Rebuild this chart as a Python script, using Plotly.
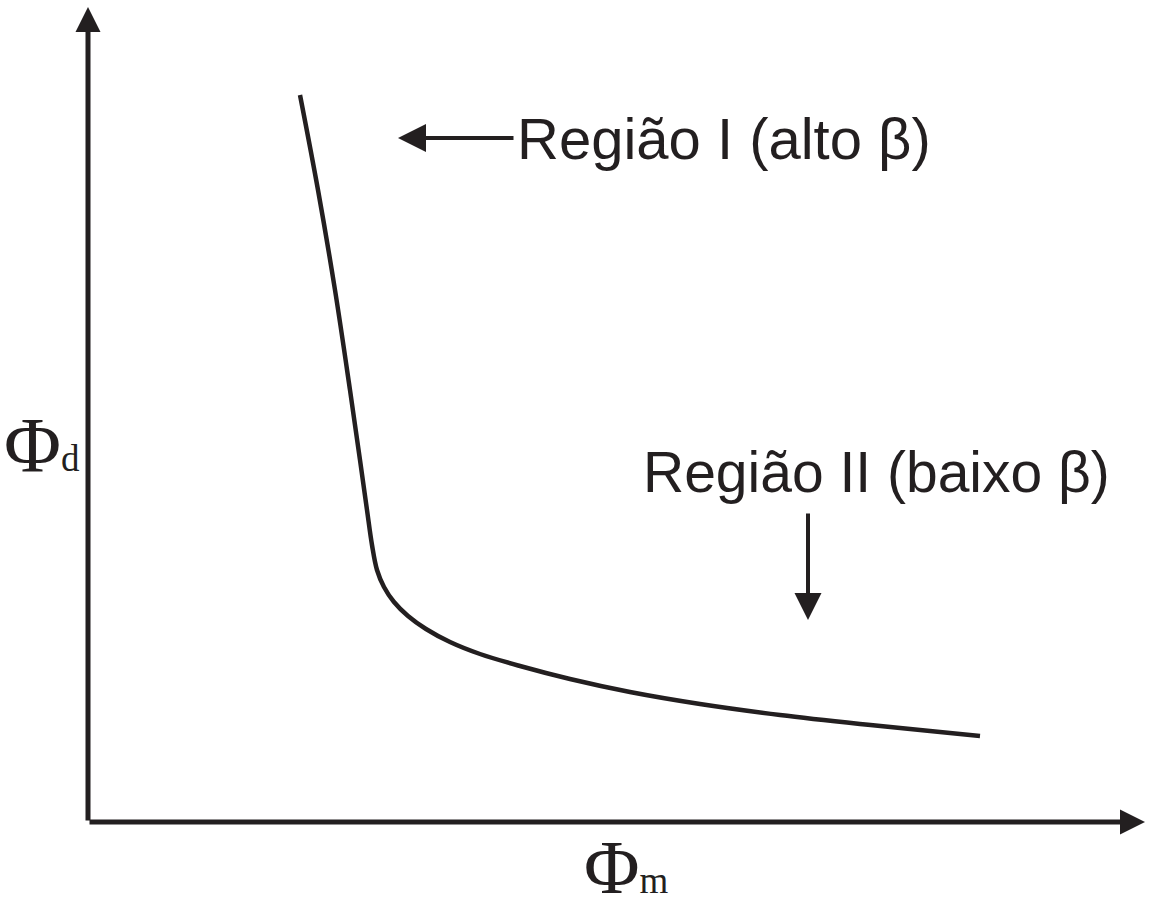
import plotly.graph_objects as go

# Dispersed-phase fraction (phi_d) vs matrix fraction (phi_m), schematic curve
phi_m = [2.12, 2.30, 2.47, 2.62, 2.72, 2.79, 2.84, 2.89, 2.96, 3.06, 3.20,
         3.38, 3.62, 3.92, 4.32, 4.82, 5.42, 6.12, 6.92, 7.72, 8.42, 8.92]
phi_d = [7.27, 6.32, 5.32, 4.32, 3.62, 3.12, 2.77, 2.52, 2.35, 2.20, 2.06,
         1.93, 1.80, 1.68, 1.56, 1.43, 1.30, 1.18, 1.07, 0.98, 0.91, 0.86]

label_region_1 = "Região I (alto β)"
label_region_2 = "Região II (baixo β)"
label_y = "Φ<span style='font-size:37px'>d</span>"
label_x = "Φ<span style='font-size:37px'>m</span>"

INK = "#231f20"
SANS = "Liberation Sans, Arial, sans-serif"
SERIF = "Liberation Serif, Times New Roman, serif"

fig = go.Figure()
fig.add_trace(go.Scatter(
    x=phi_m, y=phi_d, mode="lines",
    line=dict(color=INK, width=4.5, shape="spline", smoothing=1.0),
    hoverinfo="skip", showlegend=False,
))

annotations = []

# Axes drawn as arrows from the origin
annotations.append(dict(x=0, y=8.15, ax=0, ay=0, xref="x", yref="y", axref="x", ayref="y",
                        text="", showarrow=True, arrowhead=2, arrowsize=1, arrowwidth=5,
                        arrowcolor=INK))
annotations.append(dict(x=10.57, y=0, ax=0, ay=0, xref="x", yref="y", axref="x", ayref="y",
                        text="", showarrow=True, arrowhead=2, arrowsize=1, arrowwidth=5,
                        arrowcolor=INK))

# Region pointers
annotations.append(dict(x=3.10, y=6.84, ax=4.27, ay=6.84, xref="x", yref="y", axref="x", ayref="y",
                        text="", showarrow=True, arrowhead=2, arrowsize=1.4, arrowwidth=4,
                        arrowcolor=INK))
annotations.append(dict(x=7.20, y=2.02, ax=7.20, ay=3.10, xref="x", yref="y", axref="x", ayref="y",
                        text="", showarrow=True, arrowhead=2, arrowsize=1.35, arrowwidth=4,
                        arrowcolor=INK))

# Region labels
annotations.append(dict(x=4.27, y=6.84, xref="x", yref="y", text=label_region_1, showarrow=False,
                        xanchor="left", yanchor="middle",
                        font=dict(family=SANS, size=58, color=INK)))
annotations.append(dict(x=5.53, y=3.50, xref="x", yref="y", text=label_region_2, showarrow=False,
                        xanchor="left", yanchor="middle",
                        font=dict(family=SANS, size=57, color=INK)))

# Axis titles
annotations.append(dict(x=-0.86, y=3.78, xref="x", yref="y", text=label_y, showarrow=False,
                        xanchor="left", yanchor="middle",
                        font=dict(family=SERIF, size=78, color=INK)))
annotations.append(dict(x=4.94, y=-0.885, xref="x", yref="y", text=label_x, showarrow=False,
                        xanchor="left", yanchor="bottom",
                        font=dict(family=SERIF, size=76, color=INK)))

fig.update_layout(
    width=1150, height=911,
    margin=dict(l=0, r=0, t=0, b=0),
    paper_bgcolor="white", plot_bgcolor="white",
    xaxis=dict(range=[-0.88, 10.62], visible=False, fixedrange=True),
    yaxis=dict(range=[-0.89, 8.22], visible=False, fixedrange=True),
    annotations=annotations,
    showlegend=False,
)

fig.write_html("out.html")
